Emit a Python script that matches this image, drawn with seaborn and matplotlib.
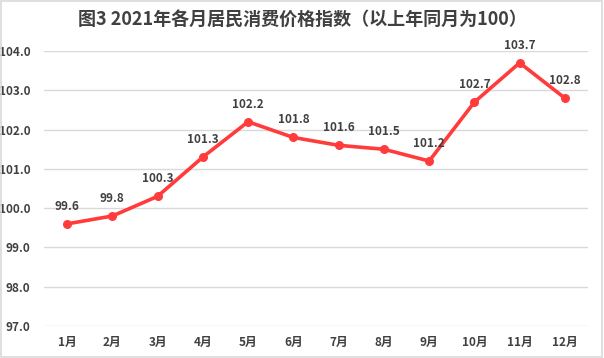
import matplotlib
matplotlib.use("Agg")
import matplotlib.pyplot as plt
import seaborn as sns
import pandas as pd

months = ["1月", "2月", "3月", "4月", "5月", "6月", "7月", "8月", "9月", "10月", "11月", "12月"]
cpi = [99.6, 99.8, 100.3, 101.3, 102.2, 101.8, 101.6, 101.5, 101.2, 102.7, 103.7, 102.8]
yticks = [97.0, 98.0, 99.0, 100.0, 101.0, 102.0, 103.0, 104.0]

sns.set_theme(style="white")
plt.rcParams["font.family"] = ["Noto Sans CJK SC", "DejaVu Sans"]

df = pd.DataFrame({"month": months, "cpi": cpi})

fig = plt.figure(figsize=(6.04, 3.58), dpi=100)
ax = fig.add_axes([0.0735, 0.0894, 0.8993, 0.768])

red = "#FF3B3B"
sns.lineplot(data=df, x="month", y="cpi", ax=ax, color=red, linewidth=2.6,
             marker="o", markersize=6.5, markeredgewidth=0, sort=False)

for i, v in enumerate(cpi):
    ax.annotate(f"{v:.1f}", (i, v), xytext=(0, 8), textcoords="offset points",
                ha="center", va="bottom", fontsize=8.5, fontweight="bold",
                color="#404040")

ax.set_xlim(-0.5, len(months) - 0.5)
ax.set_ylim(97, 104)
ax.set_yticks(yticks)
ax.set_yticklabels([f"{t:.1f}" for t in yticks])
ax.yaxis.grid(True, color="#D9D9D9", linewidth=1)
ax.xaxis.grid(False)
for s in ax.spines.values():
    s.set_visible(False)
ax.tick_params(axis="both", length=0, labelsize=8.5, labelcolor="#404040")
ax.tick_params(axis="y", pad=10)
ax.tick_params(axis="x", pad=7)
for lab in ax.get_xticklabels() + ax.get_yticklabels():
    lab.set_fontweight("bold")
ax.set_xlabel("")
ax.set_ylabel("")

fig.text(0.5, 0.945, "图3 2021年各月居民消费价格指数（以上年同月为100）",
         ha="center", va="center", fontsize=13, fontweight="bold", color="#404040")

fig.patches.append(plt.Rectangle((0.002, 0.003), 0.995, 0.994, transform=fig.transFigure,
                                 fill=False, edgecolor="#D9D9D9", linewidth=1.2))

fig.savefig("out.png", dpi=100)
